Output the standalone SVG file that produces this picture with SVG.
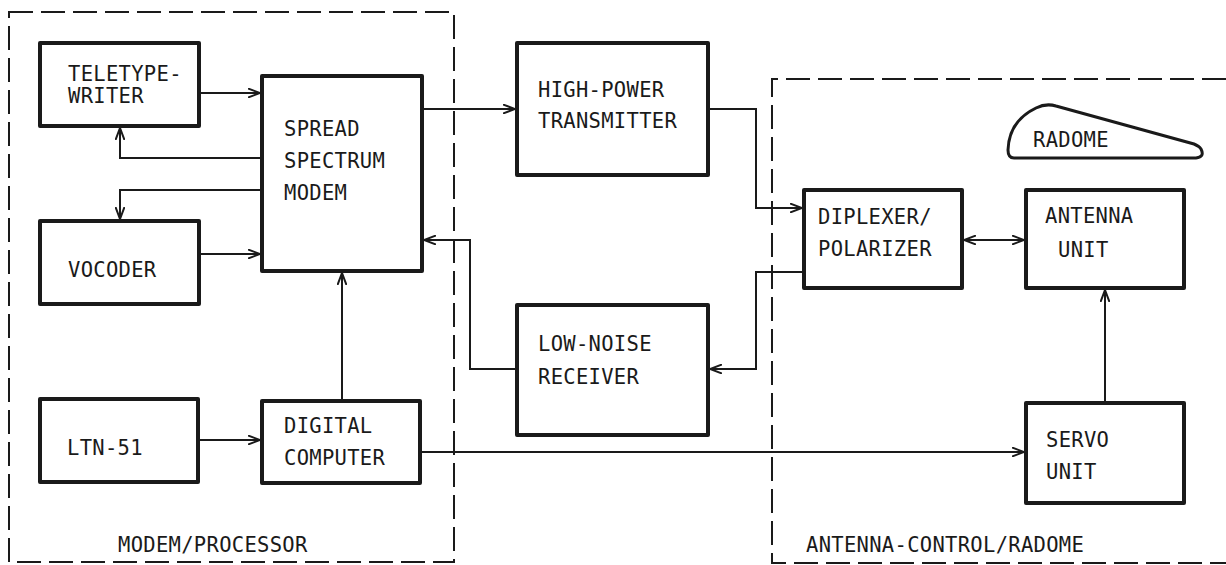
<svg xmlns="http://www.w3.org/2000/svg" width="1226" height="565" viewBox="0 0 1226 565">
<style>
.box{fill:none;stroke:#1a1a1a;stroke-width:4;stroke-linejoin:round}
.grp{fill:none;stroke:#1a1a1a;stroke-width:2;stroke-dasharray:24 8}
.ln{fill:none;stroke:#1a1a1a;stroke-width:2}
text{font-family:"DejaVu Sans Mono","Liberation Mono",monospace;font-size:20.5px;letter-spacing:0.3px;fill:#1a1a1a}
</style>
<defs>
<marker id="ah" viewBox="0 0 12 10" refX="12" refY="5" markerWidth="12" markerHeight="10" markerUnits="userSpaceOnUse" orient="auto-start-reverse">
<path d="M0,0.5 L12,5 L0,9.5" fill="none" stroke="#1a1a1a" stroke-width="2"/>
</marker>
</defs>
<rect width="1226" height="565" fill="#fff"/>
<g id="group-modem-processor">
<rect class="grp" x="9" y="12" width="445" height="550"/>
<text x="118" y="552">MODEM/PROCESSOR</text>
</g>
<g id="group-antenna-control">
<path class="grp" d="M1226,79 L772,79 L772,563 L1226,563"/>
<text x="806" y="552">ANTENNA-CONTROL/RADOME</text>
</g>
<g id="teletype">
<rect class="box" x="40" y="43" width="159" height="83"/>
<text x="68" y="81">TELETYPE-</text>
<text x="68" y="103">WRITER</text>
</g>
<g id="modem">
<rect class="box" x="262" y="76" width="160" height="195"/>
<text x="284" y="136">SPREAD</text>
<text x="284" y="168">SPECTRUM</text>
<text x="284" y="200">MODEM</text>
</g>
<g id="vocoder">
<rect class="box" x="40" y="221" width="159" height="83"/>
<text x="68" y="277">VOCODER</text>
</g>
<g id="ltn51">
<rect class="box" x="40" y="399" width="158" height="83"/>
<text x="67" y="455">LTN-51</text>
</g>
<g id="computer">
<rect class="box" x="262" y="401" width="158" height="82"/>
<text x="284" y="433">DIGITAL</text>
<text x="284" y="465">COMPUTER</text>
</g>
<g id="transmitter">
<rect class="box" x="517" y="43" width="191" height="132"/>
<text x="538" y="97">HIGH-POWER</text>
<text x="538" y="128">TRANSMITTER</text>
</g>
<g id="receiver">
<rect class="box" x="517" y="305" width="191" height="130"/>
<text x="538" y="351">LOW-NOISE</text>
<text x="538" y="384">RECEIVER</text>
</g>
<g id="diplexer">
<rect class="box" x="804" y="190" width="158" height="98"/>
<text x="818" y="224">DIPLEXER/</text>
<text x="818" y="256">POLARIZER</text>
</g>
<g id="antenna">
<rect class="box" x="1026" y="190" width="158" height="98"/>
<text x="1045" y="223">ANTENNA</text>
<text x="1058" y="257">UNIT</text>
</g>
<g id="servo">
<rect class="box" x="1026" y="403" width="158" height="100"/>
<text x="1046" y="447">SERVO</text>
<text x="1046" y="479">UNIT</text>
</g>
<g id="radome">
<path d="M1014,158 L1196,158 Q1205,157 1201,149 Q1199,146 1194,144 L1056,106 Q1046,103 1036,108 Q1009,121 1008,150 Q1008,158 1014,158 Z" fill="none" stroke="#1a1a1a" stroke-width="3"/>
<text x="1033" y="147">RADOME</text>
</g>
<g id="connectors">
<path class="ln" d="M199,93 L260,93" marker-end="url(#ah)"/>
<path class="ln" d="M262,158 L120,158 L120,128" marker-end="url(#ah)"/>
<path class="ln" d="M262,190 L120,190 L120,219" marker-end="url(#ah)"/>
<path class="ln" d="M199,254 L260,254" marker-end="url(#ah)"/>
<path class="ln" d="M198,440 L260,440" marker-end="url(#ah)"/>
<path class="ln" d="M342,401 L342,273" marker-end="url(#ah)"/>
<path class="ln" d="M422,109 L515,109" marker-end="url(#ah)"/>
<path class="ln" d="M708,109 L756,109 L756,208 L802,208" marker-end="url(#ah)"/>
<path class="ln" d="M804,272 L756,272 L756,369 L710,369" marker-end="url(#ah)"/>
<path class="ln" d="M517,369 L470,369 L470,240 L424,240" marker-end="url(#ah)"/>
<path class="ln" d="M420,452 L1024,452" marker-end="url(#ah)"/>
<path class="ln" d="M1105,403 L1105,290" marker-end="url(#ah)"/>
<path class="ln" d="M964,240 L1024,240" marker-start="url(#ah)" marker-end="url(#ah)"/>
</g>
</svg>
